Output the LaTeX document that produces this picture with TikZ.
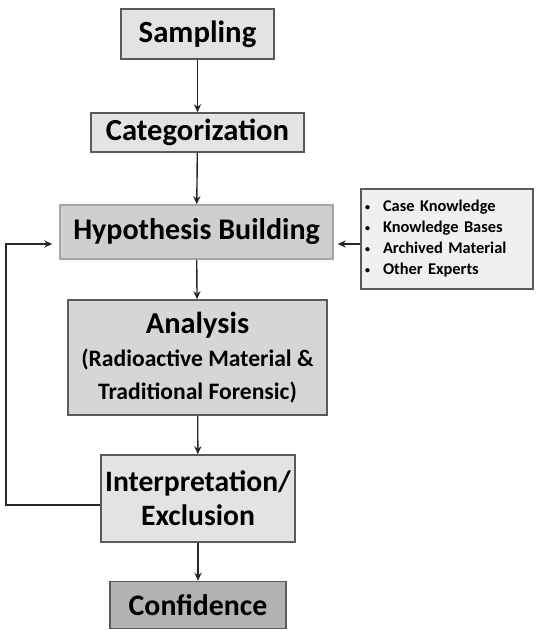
\documentclass[tikz,border=0pt]{standalone}
\usepackage{fontspec}
\setmainfont{Carlito}
\usetikzlibrary{positioning}
\usetikzlibrary {arrows.meta}
\definecolor{boxline}{HTML}{5A5A5A}
\tikzset{flowbox/.style={rectangle,draw=boxline,fill=black!11,line width=0.8pt,
inner sep=2pt,align=center,font=\bfseries}}
\tikzset{flowboxside/.style={rectangle,draw=boxline,fill=black!6,line width=0.7pt,
inner xsep=2pt,inner ysep=3pt,text width=82pt,align=left,font=\bfseries\fontsize{8.2}{10.5}\selectfont}}
\tikzset{flowarrow/.style={line width=0.7pt,draw=black!85,-{Stealth[length=4pt,width=3.6pt]}}}
\newcommand{\srcbullet}{\makebox[9pt][l]{\raisebox{0.2ex}{\fontsize{5}{5}\selectfont\textbullet}}}

\begin{document}
\begin{tikzpicture}[x=0.5pt,y=-0.5pt]
        \useasboundingbox (0,0) rectangle (535,630);

        \node[flowbox, minimum width=76.5pt, minimum height=25pt,
              font=\bfseries\fontsize{15.4}{17}\selectfont] (sampling) at (197.5,34) {Sampling};
        \node[flowbox, minimum width=106.5pt, minimum height=19.5pt,
              font=\bfseries\fontsize{15.3}{17}\selectfont] (categ) at (197.5,132.5) {Categorization};
        \node[flowbox, draw=black!35, fill=black!19, minimum width=136.5pt, minimum height=27pt,
              font=\bfseries\fontsize{15}{17}\selectfont] (hypo) at (196.5,232) {Hypothesis Building};
        \node[flowboxside, minimum height=50pt] (sources) at (447,239)
              {\srcbullet Case Knowledge\\ \srcbullet Knowledge Bases\\
               \srcbullet Archived Material\\ \srcbullet Other Experts};
        \node[flowbox, fill=black!16, minimum width=129.5pt, minimum height=57.5pt,
              font=\bfseries\fontsize{11.8}{16.5}\selectfont] (analysis) at (197.5,357.5)
              {{\fontsize{15.2}{16.5}\selectfont Analysis}\\
               (Radioactive Material \&\\
               Traditional Forensic)};
        \node[flowbox, minimum width=97pt, minimum height=43.5pt,
              font=\bfseries\fontsize{14.8}{17}\selectfont] (interp) at (198,498.5) {Interpretation/\\Exclusion};
        \node[flowbox, fill=black!30, minimum width=88pt, minimum height=23.5pt,
              font=\bfseries\fontsize{14.9}{17}\selectfont] (confid) at (198,605) {Confidence};

        \draw[flowarrow] (sampling) -- (categ);
        \draw[flowarrow] (categ) -- (hypo);
        \draw[flowarrow] (hypo) -- (analysis);
        \draw[flowarrow] (analysis) -- (interp);
        \draw[flowarrow] (interp) -- (confid);

        % knowledge sources feed the hypothesis
        \coordinate (hypoin) at ([xshift=2pt,yshift=-6pt]hypo.east);
        \draw[flowarrow] (sources.west |- hypoin) -- (hypoin);

        % feedback loop
        \coordinate (loopout) at ([yshift=-3.25pt]interp.west);
        \coordinate (loopin) at ([xshift=-3.5pt,yshift=-6pt]hypo.west);
        \draw[flowarrow] (loopout) -| (6,0 |- loopin) -- (loopin);
\end{tikzpicture}
\end{document}
